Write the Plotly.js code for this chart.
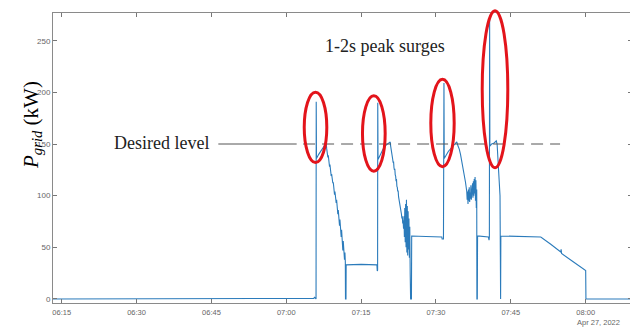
<!DOCTYPE html>
<html>
<head>
<meta charset="utf-8">
<script src="https://cdn.plot.ly/plotly-3.0.1.min.js"></script>
<style>
html,body{margin:0;padding:0;overflow:hidden;background:#fff;width:630px;height:327px;}
#chart{width:634px;height:327px;}
</style>
</head>
<body>
<div id="chart"></div>
<script>
const day = "2022-04-27 ";
const times = [
"06:13:15","07:05:30","07:05:40","07:05:50","07:05:58",
"07:06:00","07:06:03","07:06:30","07:07:00","07:07:30","07:08:00",
"07:08:05","07:08:10","07:08:15","07:08:20","07:08:25","07:08:30","07:08:35","07:08:40","07:08:45","07:08:50","07:08:55",
"07:09:00","07:09:05","07:09:10","07:09:15","07:09:20","07:09:25","07:09:30","07:09:35","07:09:40","07:09:45","07:09:50","07:09:55",
"07:10:00","07:10:05","07:10:10","07:10:15","07:10:20","07:10:25","07:10:30","07:10:35","07:10:40","07:10:45","07:10:50","07:10:55",
"07:11:00","07:11:05","07:11:10","07:11:15","07:11:20","07:11:25","07:11:30","07:11:35","07:11:40","07:11:45","07:11:50","07:11:52","07:11:58",
"07:12:00","07:15:00","07:18:10","07:18:14","07:18:18",
"07:18:20","07:18:23","07:19:00","07:19:30","07:20:00","07:20:50",
"07:20:55","07:21:00","07:21:05","07:21:10","07:21:15","07:21:20","07:21:25","07:21:30","07:21:35","07:21:40","07:21:45","07:21:50","07:21:55",
"07:22:00","07:22:05","07:22:10","07:22:15","07:22:20","07:22:25","07:22:30","07:22:35","07:22:40","07:22:45","07:22:50","07:22:55",
"07:23:00","07:23:05","07:23:10","07:23:15","07:23:20","07:23:25","07:23:30","07:23:35","07:23:40","07:23:45","07:23:50","07:23:55",
"07:24:00","07:24:05","07:24:10","07:24:15","07:24:20","07:24:25","07:24:30","07:24:35","07:24:40","07:24:45","07:24:50","07:24:55",
"07:25:05","07:25:08","07:28:00","07:31:10","07:31:14","07:31:30",
"07:31:36","07:31:39","07:32:30","07:33:20","07:34:10",
"07:34:25","07:34:40","07:34:55","07:35:10","07:35:25","07:35:40","07:35:55","07:36:10",
"07:36:15","07:36:20","07:36:25","07:36:30","07:36:35","07:36:40","07:36:45","07:36:50","07:36:55",
"07:37:00","07:37:05","07:37:10","07:37:15","07:37:20","07:37:25","07:37:30","07:37:35","07:37:40","07:37:45","07:37:50","07:37:55",
"07:38:00","07:38:05","07:38:10","07:38:12","07:38:17",
"07:38:20","07:40:30","07:40:38","07:40:42",
"07:40:45","07:40:48","07:41:10","07:41:40","07:42:05","07:42:15","07:42:50","07:42:52","07:42:57",
"07:43:00","07:47:00","07:51:00","07:53:00","07:55:00","07:55:05","07:55:10","07:57:30","08:00:00","08:00:03","08:09:17"
];
const pgrid = [
0,0.5,1.5,0.5,0,
191,136,140,144,148,151,
146,141,145,137,139,132,136,128,130,124,127,
119,121,115,117,112,113,106,110,101,104,96,99,
93,96,87,91,82,86,77,81,71,77,66,72,
60,67,53,61,47,56,42,50,38,45,36,0,0,
33,33.5,33,27,28,
190,135,141,146,149,152,
148,144,146,140,138,135,132,133,127,125,126,120,119,
114,116,109,108,104,105,99,97,95,91,90,86,
84,82,78,80,73,76,68,80,60,88,55,92,
50,96,45,90,42,85,48,78,40,70,25,0,
0,61,60.5,60,58,58,
209,136,143,148,152,
148,145,140,134,128,120,113,104,
96,104,92,106,95,108,94,103,97,
110,96,106,99,112,98,114,100,116,102,118,95,
115,88,106,0,0,
61,60,57,60,
272,148,150,151,153,150,100,0,0,
61,60.5,60,53,45.5,48,44,36,27.5,0,0
];
const desiredLevel = 150;
const xTickStart = "06:15:00";
const xRange = ["06:13:15","08:09:17"];
const yRange = [-3.9, 276.8];

const x = times.map(t => day + t);

const trace = {
  x: x, y: pgrid, type: 'scatter', mode: 'lines',
  line: {color: '#2b7bbb', width: 1.1},
  hoverinfo: 'skip'
};

const axisCommon = {
  showgrid: false, zeroline: false, showline: true, linecolor: '#8a8a8a', linewidth: 1,
  ticks: 'inside', ticklen: 4, tickcolor: '#777', tickwidth: 1, mirror: 'ticks',
  tickfont: {family: 'Liberation Sans, Arial, sans-serif', size: 7.5, color: '#666'}
};

const layout = {
  width: 634, height: 327,
  margin: {l: 53, r: 2, t: 13, b: 24},
  paper_bgcolor: '#fff', plot_bgcolor: '#fff',
  showlegend: false,
  xaxis: Object.assign({}, axisCommon, {
    type: 'date', range: xRange.map(t => day + t),
    tick0: day + xTickStart, dtick: 15 * 60 * 1000, tickformat: '%H:%M',
    ticklabelstandoff: 2
  }),
  yaxis: Object.assign({}, axisCommon, {
    range: yRange, tick0: 0, dtick: 50,
    tickfont: {family: 'Liberation Sans, Arial, sans-serif', size: 8, color: '#666'}
  }),
  shapes: [
    {type: 'line', xref: 'x', yref: 'y', x0: day + "06:46:23", x1: day + "07:02:05", y0: desiredLevel, y1: desiredLevel,
     line: {color: '#555', width: 1}},
    {type: 'line', xref: 'x', yref: 'y', x0: day + "07:03:22", x1: day + "07:54:52", y0: desiredLevel, y1: desiredLevel,
     line: {color: '#555', width: 1, dash: '12px,7px'}},
    {type: 'circle', xref: 'paper', yref: 'paper', x0: 0.4339, x1: 0.4729, y0: 0.4845, y1: 0.7269, line: {color: '#e3141b', width: 3}},
    {type: 'circle', xref: 'paper', yref: 'paper', x0: 0.5345, x1: 0.5737, y0: 0.4545, y1: 0.7145, line: {color: '#e3141b', width: 3}},
    {type: 'circle', xref: 'paper', yref: 'paper', x0: 0.6525, x1: 0.6929, y0: 0.4697, y1: 0.7717, line: {color: '#e3141b', width: 3}},
    {type: 'circle', xref: 'paper', yref: 'paper', x0: 0.7413, x1: 0.7855, y0: 0.4662, y1: 1.0076, line: {color: '#e3141b', width: 3}}
  ],
  annotations: [
    {text: 'Desired level', xref: 'x', yref: 'y', x: day + "06:34:54", y: 151, showarrow: false,
     font: {family: 'Liberation Serif, Times New Roman, serif', size: 18, color: '#222'}},
    {text: '1-2s peak surges', xref: 'x', yref: 'y', x: day + "07:19:48", y: 245, showarrow: false,
     font: {family: 'Liberation Serif, Times New Roman, serif', size: 18, color: '#222'}},
    {text: '<i>P</i><sub><i>grid</i></sub> (kW)', xref: 'paper', yref: 'paper', x: -0.0622, y: 0.6138,
     textangle: -90, showarrow: false,
     font: {family: 'Liberation Serif, Times New Roman, serif', size: 21, color: '#000'}},
    {text: 'Apr 27, 2022', xref: 'paper', yref: 'paper', x: (621.7 - 53) / 579, xanchor: 'right',
     y: (303 - 322.5) / 290, yanchor: 'middle',
     showarrow: false, font: {family: 'Liberation Sans, Arial, sans-serif', size: 7.5, color: '#666'}}
  ]
};

Plotly.newPlot('chart', [trace], layout, {staticPlot: true, displayModeBar: false});
</script>
</body>
</html>
